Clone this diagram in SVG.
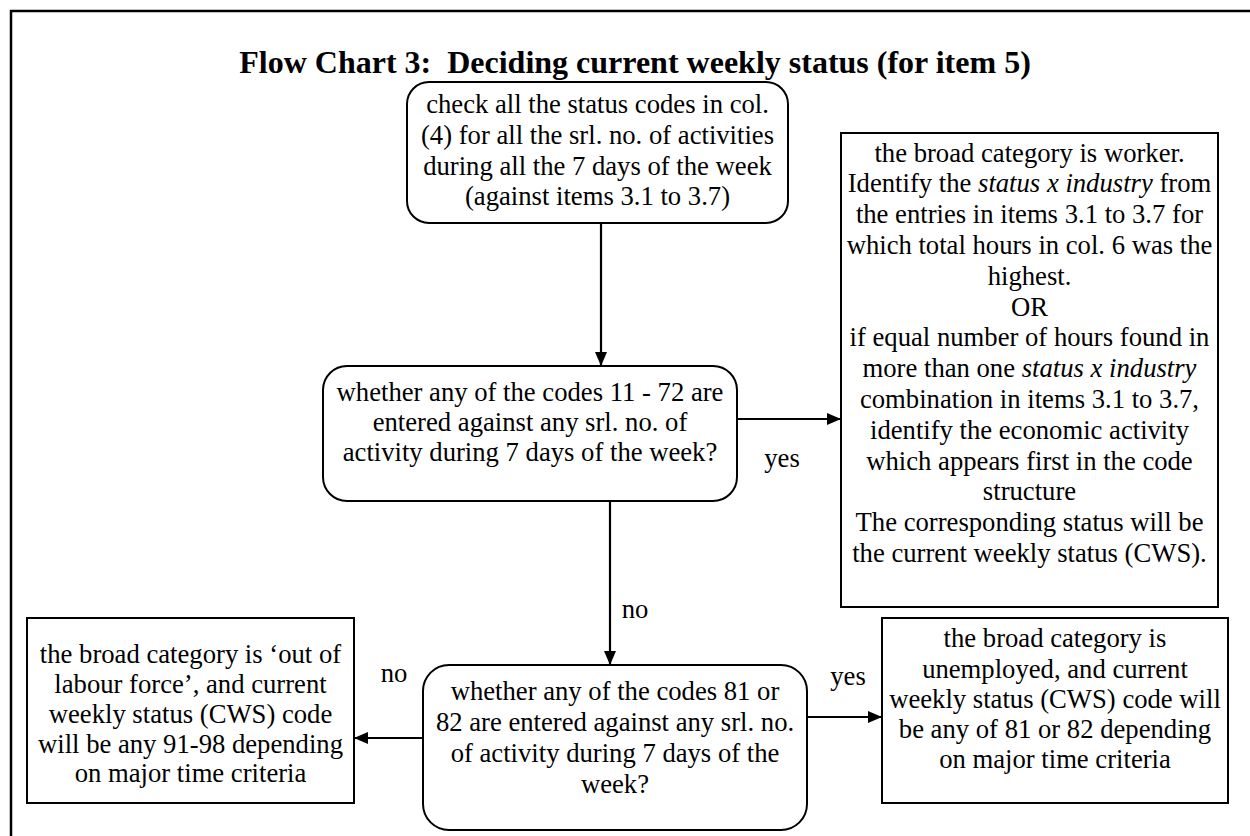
<svg xmlns="http://www.w3.org/2000/svg" width="1250" height="836" viewBox="0 0 1250 836">
<style>
.t{font-family:"Liberation Serif","Times New Roman",serif;font-size:26.67px;fill:#000;text-anchor:middle}
.title{font-family:"Liberation Serif","Times New Roman",serif;font-size:32px;font-weight:bold;fill:#000;text-anchor:middle}
.box{fill:#fff;stroke:#000;stroke-width:2}
.conn{fill:none;stroke:#000;stroke-width:2.2}
.i{font-style:italic}
</style>
<defs>
<marker id="arr" markerUnits="userSpaceOnUse" markerWidth="14" markerHeight="12" refX="14" refY="6" orient="auto">
<path d="M0,0 L14,6 L0,12 z" fill="#000"/>
</marker>
</defs>
<rect x="11" y="11" width="1260" height="900" fill="#fff" stroke="#000" stroke-width="2.5"/>
<text class="title" x="635" y="73">Flow Chart 3:&#160; Deciding current weekly status (for item 5)</text>

<g id="connectors">
<path class="conn" d="M601,223 L601,366" marker-end="url(#arr)"/>
<path class="conn" d="M737,419 L841,419" marker-end="url(#arr)"/>
<path class="conn" d="M610,501 L610,665" marker-end="url(#arr)"/>
<path class="conn" d="M423,738 L354,738" marker-end="url(#arr)"/>
<path class="conn" d="M807,717 L882,717" marker-end="url(#arr)"/>
<text class="t" x="782" y="467">yes</text>
<text class="t" x="635" y="618">no</text>
<text class="t" x="394" y="682">no</text>
<text class="t" x="848" y="685">yes</text>
</g>

<g id="start">
<rect class="box" x="407" y="82" width="381" height="141" rx="22" ry="22"/>
<text class="t" x="597.5" y="113">check all the status codes in col.</text>
<text class="t" x="597.5" y="144">(4) for all the srl. no. of activities</text>
<text class="t" x="597.5" y="175">during all the 7 days of the week</text>
<text class="t" x="597.5" y="205">(against items 3.1 to 3.7)</text>
</g>

<g id="decision1">
<rect class="box" x="323" y="366" width="414" height="135" rx="24" ry="24"/>
<text class="t" x="530" y="401">whether any of the codes 11 - 72 are</text>
<text class="t" x="530" y="431">entered against any srl. no. of</text>
<text class="t" x="530" y="461">activity during 7 days of the week?</text>
</g>

<g id="worker">
<rect class="box" x="841" y="133" width="377" height="474"/>
<text class="t" x="1029.5" y="161.5">the broad category is worker.</text>
<text class="t" x="1029.5" y="192.3">Identify the <tspan class="i">status x industry</tspan> from</text>
<text class="t" x="1029.5" y="223.1">the entries in items 3.1 to 3.7 for</text>
<text class="t" x="1029.5" y="253.9">which total hours in col. 6 was the</text>
<text class="t" x="1029.5" y="284.7">highest.</text>
<text class="t" x="1029.5" y="315.5">OR</text>
<text class="t" x="1029.5" y="346.3">if equal number of hours found in</text>
<text class="t" x="1029.5" y="377.1">more than one <tspan class="i">status x industry</tspan></text>
<text class="t" x="1029.5" y="407.9">combination in items 3.1 to 3.7,</text>
<text class="t" x="1029.5" y="438.7">identify the economic activity</text>
<text class="t" x="1029.5" y="469.5">which appears first in the code</text>
<text class="t" x="1029.5" y="500.3">structure</text>
<text class="t" x="1029.5" y="531.1">The corresponding status will be</text>
<text class="t" x="1029.5" y="561.9">the current weekly status (CWS).</text>
</g>

<g id="decision2">
<rect class="box" x="423" y="665" width="384" height="165" rx="26" ry="26"/>
<text class="t" x="615" y="700">whether any of the codes 81 or</text>
<text class="t" x="615" y="731">82 are entered against any srl. no.</text>
<text class="t" x="615" y="762">of activity during 7 days of the</text>
<text class="t" x="615" y="793">week?</text>
</g>

<g id="outoflabour">
<rect class="box" x="27" y="618" width="327" height="185"/>
<text class="t" x="190.5" y="663">the broad category is ‘out of</text>
<text class="t" x="190.5" y="693">labour force’, and current</text>
<text class="t" x="190.5" y="723">weekly status (CWS) code</text>
<text class="t" x="190.5" y="753">will be any 91-98 depending</text>
<text class="t" x="190.5" y="782">on major time criteria</text>
</g>

<g id="unemployed">
<rect class="box" x="882" y="618" width="346" height="185"/>
<text class="t" x="1055" y="647">the broad category is</text>
<text class="t" x="1055" y="678">unemployed, and current</text>
<text class="t" x="1055" y="708">weekly status (CWS) code will</text>
<text class="t" x="1055" y="738">be any of 81 or 82 depending</text>
<text class="t" x="1055" y="768">on major time criteria</text>
</g>
</svg>
